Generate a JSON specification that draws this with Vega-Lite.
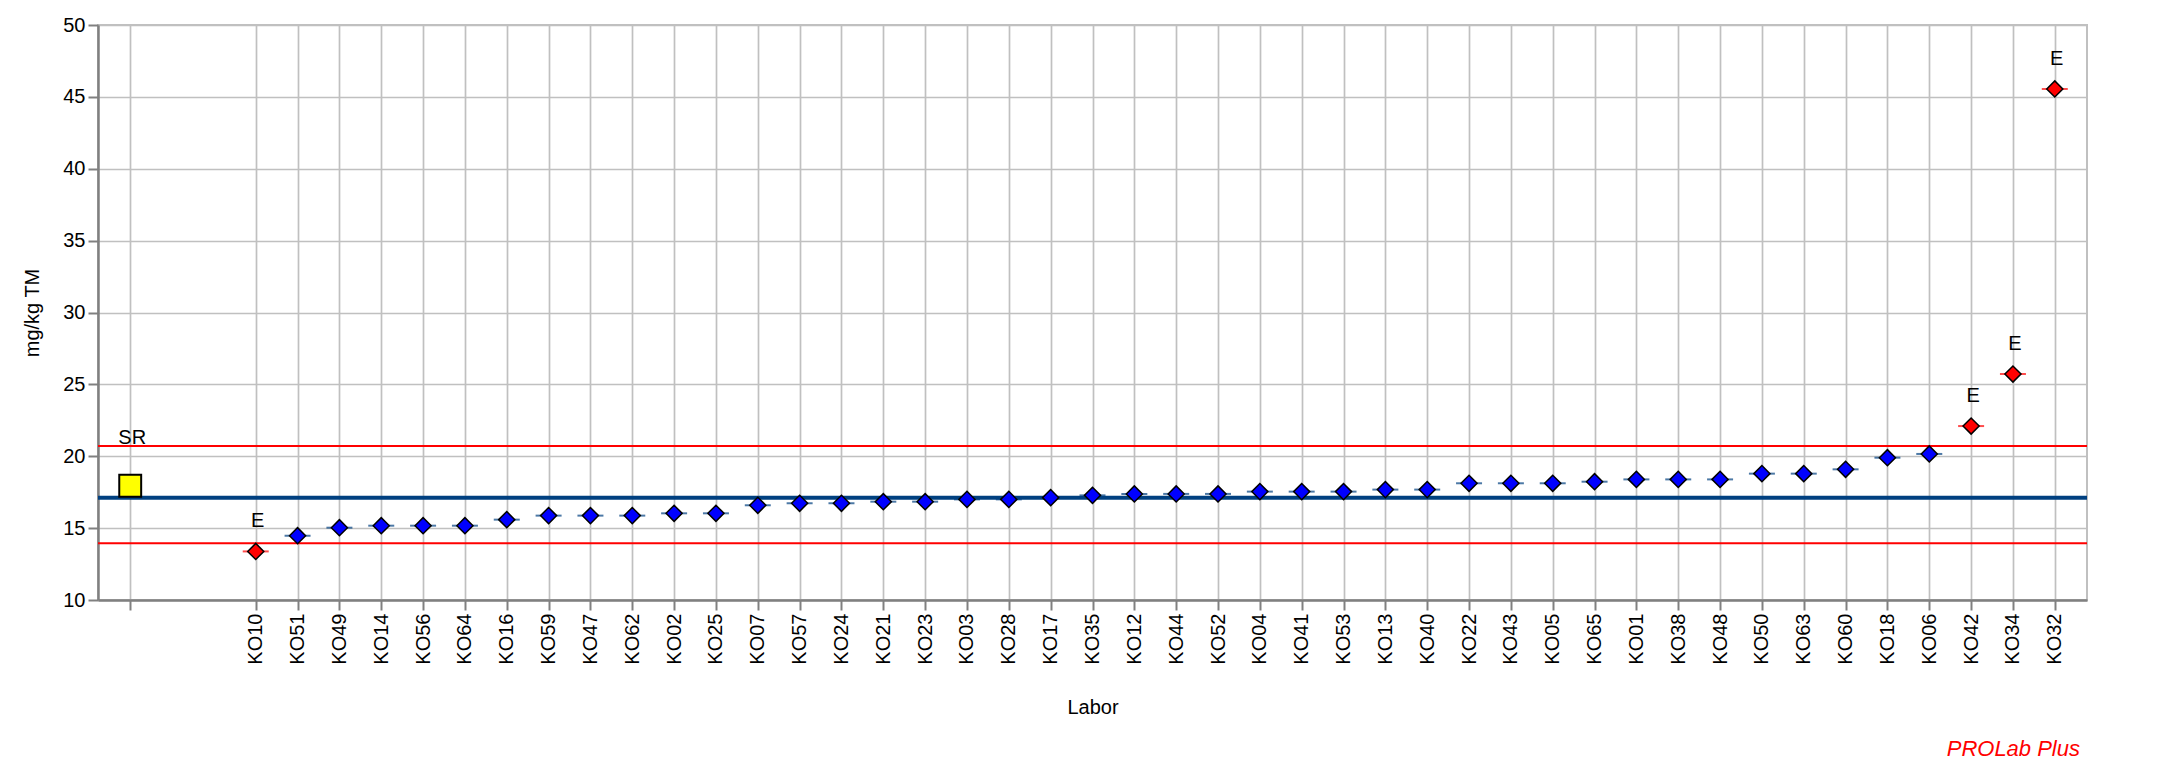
{
  "$schema": "https://vega.github.io/schema/vega-lite/v6.json",
  "width": 1989,
  "height": 575,
  "autosize": {"type": "none"},
  "padding": {"left": 98, "top": 25, "right": 92, "bottom": 172},
  "background": "white",
  "config": {
    "font": "Liberation Sans",
    "view": {"stroke": "#c0c0c0", "strokeWidth": 2},
    "axis": {
      "labelFontSize": 20,
      "titleFontSize": 20,
      "titleFontWeight": "normal",
      "labelColor": "black",
      "titleColor": "black",
      "domainColor": "#808080",
      "domainWidth": 2.5,
      "tickColor": "#808080",
      "tickWidth": 2,
      "tickSize": 10,
      "grid": true,
      "gridColor": "#c0c0c0",
      "gridWidth": 1.7
    }
  },
  "title": {
    "text": "PROLab Plus",
    "orient": "bottom",
    "anchor": "end",
    "baseline": "top",
    "color": "#ff0000",
    "fontStyle": "italic",
    "fontWeight": "normal",
    "fontSize": 22,
    "font": "Liberation Sans",
    "offset": 22,
    "dx": -9
  },
  "datasets": {
    "labs": [
      {"lab": "SR", "value": 17.95, "flag": "SR"},
      {"lab": "KO10", "value": 13.38, "flag": "E"},
      {"lab": "KO51", "value": 14.47, "flag": ""},
      {"lab": "KO49", "value": 15.03, "flag": ""},
      {"lab": "KO14", "value": 15.17, "flag": ""},
      {"lab": "KO56", "value": 15.17, "flag": ""},
      {"lab": "KO64", "value": 15.17, "flag": ""},
      {"lab": "KO16", "value": 15.59, "flag": ""},
      {"lab": "KO59", "value": 15.87, "flag": ""},
      {"lab": "KO47", "value": 15.87, "flag": ""},
      {"lab": "KO62", "value": 15.87, "flag": ""},
      {"lab": "KO02", "value": 16.03, "flag": ""},
      {"lab": "KO25", "value": 16.03, "flag": ""},
      {"lab": "KO07", "value": 16.59, "flag": ""},
      {"lab": "KO57", "value": 16.73, "flag": ""},
      {"lab": "KO24", "value": 16.73, "flag": ""},
      {"lab": "KO21", "value": 16.84, "flag": ""},
      {"lab": "KO23", "value": 16.84, "flag": ""},
      {"lab": "KO03", "value": 17.0, "flag": ""},
      {"lab": "KO28", "value": 17.0, "flag": ""},
      {"lab": "KO17", "value": 17.12, "flag": ""},
      {"lab": "KO35", "value": 17.28, "flag": ""},
      {"lab": "KO12", "value": 17.38, "flag": ""},
      {"lab": "KO44", "value": 17.38, "flag": ""},
      {"lab": "KO52", "value": 17.38, "flag": ""},
      {"lab": "KO04", "value": 17.54, "flag": ""},
      {"lab": "KO41", "value": 17.54, "flag": ""},
      {"lab": "KO53", "value": 17.54, "flag": ""},
      {"lab": "KO13", "value": 17.68, "flag": ""},
      {"lab": "KO40", "value": 17.68, "flag": ""},
      {"lab": "KO22", "value": 18.12, "flag": ""},
      {"lab": "KO43", "value": 18.12, "flag": ""},
      {"lab": "KO05", "value": 18.12, "flag": ""},
      {"lab": "KO65", "value": 18.23, "flag": ""},
      {"lab": "KO01", "value": 18.39, "flag": ""},
      {"lab": "KO38", "value": 18.39, "flag": ""},
      {"lab": "KO48", "value": 18.39, "flag": ""},
      {"lab": "KO50", "value": 18.79, "flag": ""},
      {"lab": "KO63", "value": 18.79, "flag": ""},
      {"lab": "KO60", "value": 19.09, "flag": ""},
      {"lab": "KO18", "value": 19.9, "flag": ""},
      {"lab": "KO06", "value": 20.16, "flag": ""},
      {"lab": "KO42", "value": 22.1, "flag": "E"},
      {"lab": "KO34", "value": 25.72, "flag": "E"},
      {"lab": "KO32", "value": 45.55, "flag": "E"}
    ],
    "refs": [
      {"kind": "assigned", "value": 17.12},
      {"kind": "upper", "value": 20.71},
      {"kind": "lower", "value": 13.94}
    ]
  },
  "encoding": {
    "y": {"field": "value", "type": "quantitative",
      "scale": {"domain": [10, 50], "nice": false, "zero": false},
      "axis": {"title": "mg/kg TM", "values": [10, 15, 20, 25, 30, 35, 40, 45, 50], "format": "d", "labelPadding": 3, "titlePadding": 20}}
  },
  "layer": [
    {
      "data": {"name": "refs"},
      "transform": [{"filter": "datum.kind !== 'assigned'"}],
      "mark": {"type": "rule", "color": "#ff0000", "strokeWidth": 2},
      "encoding": {}
    },
    {
      "data": {"name": "refs"},
      "transform": [{"filter": "datum.kind === 'assigned'"}],
      "mark": {"type": "rule", "color": "#004080", "strokeWidth": 4},
      "encoding": {}
    },
    {
      "data": {"name": "labs"},
      "encoding": {
        "x": {"field": "lab", "type": "nominal",
          "scale": {"type": "point", "padding": 0.77, "domain": ["SR", "_a", "_b", "KO10", "KO51", "KO49", "KO14", "KO56", "KO64", "KO16", "KO59", "KO47", "KO62", "KO02", "KO25", "KO07", "KO57", "KO24", "KO21", "KO23", "KO03", "KO28", "KO17", "KO35", "KO12", "KO44", "KO52", "KO04", "KO41", "KO53", "KO13", "KO40", "KO22", "KO43", "KO05", "KO65", "KO01", "KO38", "KO48", "KO50", "KO63", "KO60", "KO18", "KO06", "KO42", "KO34", "KO32"]},
          "axis": {"title": "Labor", "grid": true, "values": ["SR", "KO10", "KO51", "KO49", "KO14", "KO56", "KO64", "KO16", "KO59", "KO47", "KO62", "KO02", "KO25", "KO07", "KO57", "KO24", "KO21", "KO23", "KO03", "KO28", "KO17", "KO35", "KO12", "KO44", "KO52", "KO04", "KO41", "KO53", "KO13", "KO40", "KO22", "KO43", "KO05", "KO65", "KO01", "KO38", "KO48", "KO50", "KO63", "KO60", "KO18", "KO06", "KO42", "KO34", "KO32"],
            "labelExpr": "datum.value === 'SR' ? '' : datum.value", "labelAngle": 270, "labelOverlap": false, "labelBound": false, "labelFlush": false, "labelPadding": 3, "titlePadding": 33}}
      },
      "layer": [
        {
          "transform": [{"filter": "datum.flag !== 'SR'"}],
          "mark": {"type": "tick", "orient": "horizontal", "size": 26, "thickness": 2},
          "encoding": {
            "color": {"condition": {"test": "datum.flag === 'E'", "value": "#ff0000"}, "value": "#004080"}
          }
        },
        {
          "transform": [{"filter": "datum.flag !== 'SR'"}],
          "mark": {"type": "point", "shape": "diamond", "size": 260, "filled": true, "stroke": "#000000", "strokeWidth": 1.5, "opacity": 1},
          "encoding": {
            "fill": {"condition": {"test": "datum.flag === 'E'", "value": "#ff0000"}, "value": "#0000ff"}
          }
        },
        {
          "transform": [{"filter": "datum.flag === 'SR'"}],
          "mark": {"type": "point", "shape": "square", "size": 480, "filled": true, "fill": "#ffff00", "stroke": "#000000", "strokeWidth": 2, "opacity": 1}
        },
        {
          "transform": [{"filter": "datum.flag === 'E'"}],
          "mark": {"type": "text", "dy": -30, "dx": 2, "fontSize": 20, "color": "#000000", "baseline": "middle", "align": "center"},
          "encoding": {"text": {"field": "flag"}}
        },
        {
          "transform": [{"filter": "datum.flag === 'SR'"}],
          "mark": {"type": "text", "dy": -48, "dx": 2, "fontSize": 20, "color": "#000000", "baseline": "middle", "align": "center"},
          "encoding": {"text": {"field": "lab"}}
        }
      ]
    }
  ]
}
